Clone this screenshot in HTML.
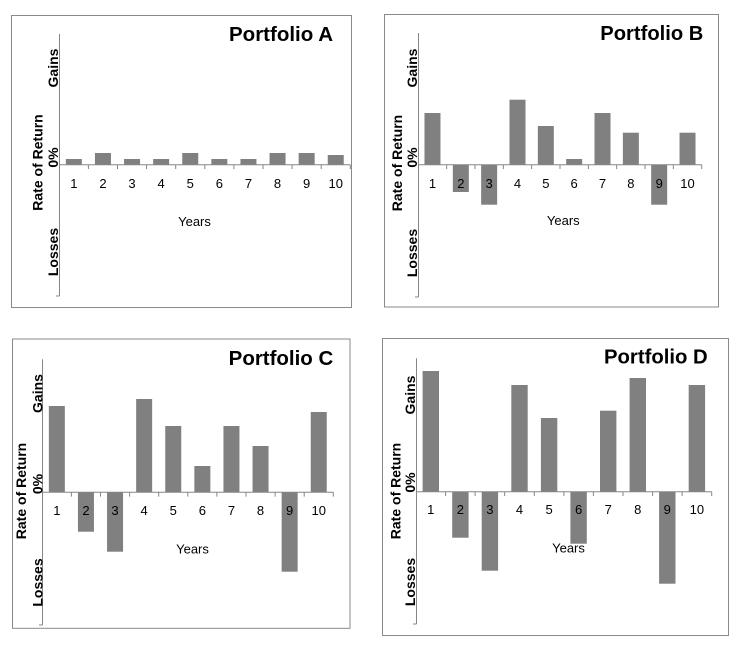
<!DOCTYPE html>
<html><head><meta charset="utf-8"><style>
html,body{margin:0;padding:0;background:#fff;}
svg{display:block;}
.fr{fill:none;stroke:#8a8a8a;stroke-width:1;}
.ax{stroke:#868686;stroke-width:1;fill:none;}
.b{fill:#808080;}
.tl{font-family:"Liberation Sans",Arial,sans-serif;font-size:13px;fill:#000;text-anchor:middle;}
.yr{font-family:"Liberation Sans",Arial,sans-serif;font-size:13px;fill:#000;text-anchor:middle;}
.tt{font-family:"Liberation Sans",Arial,sans-serif;font-size:20px;font-weight:bold;fill:#000;text-anchor:end;}
.ya{font-family:"Liberation Sans",Arial,sans-serif;font-size:14px;font-weight:bold;fill:#000;text-anchor:middle;}
</style></head><body>
<svg width="741" height="647" viewBox="0 0 741 647" xmlns="http://www.w3.org/2000/svg">
<!-- Panel A -->
<rect class="fr" x="11.5" y="15.5" width="340" height="292"/>
<g class="b">
<rect x="65.85" y="159" width="16" height="5.7"/>
<rect x="94.95" y="153" width="16" height="11.7"/>
<rect x="124.05" y="159" width="16" height="5.7"/>
<rect x="153.15" y="159" width="16" height="5.7"/>
<rect x="182.25" y="153" width="16" height="11.7"/>
<rect x="211.35" y="159" width="16" height="5.7"/>
<rect x="240.45" y="159" width="16" height="5.7"/>
<rect x="269.55" y="153" width="16" height="11.7"/>
<rect x="298.65" y="153" width="16" height="11.7"/>
<rect x="327.75" y="155" width="16" height="9.7"/>
</g>
<path class="ax" d="M59.5 34V296M56 296H59.5M59 164.7H350.3M88.4 164.7V169M117.5 164.7V169M146.6 164.7V169M175.7 164.7V169M204.8 164.7V169M233.9 164.7V169M263 164.7V169M292.1 164.7V169M321.2 164.7V169M350.3 164.7V169"/>
<g class="tl">
<text x="73.85" y="188">1</text><text x="102.95" y="188">2</text><text x="132.05" y="188">3</text><text x="161.15" y="188">4</text><text x="190.25" y="188">5</text><text x="219.35" y="188">6</text><text x="248.45" y="188">7</text><text x="277.55" y="188">8</text><text x="306.65" y="188">9</text><text x="335.75" y="188">10</text>
</g>
<text class="yr" x="194.5" y="226">Years</text>
<text class="tt" x="333" y="41" textLength="104" lengthAdjust="spacingAndGlyphs">Portfolio A</text>
<text class="ya" transform="translate(58,68) rotate(-90)">Gains</text>
<text class="ya" transform="translate(58,157.5) rotate(-90)">0%</text>
<text class="ya" transform="translate(58,252) rotate(-90)">Losses</text>
<text class="ya" transform="translate(42.5,162.5) rotate(-90)">Rate of Return</text>

<!-- Panel B -->
<rect class="fr" x="384.5" y="14.5" width="334" height="292.5"/>
<g class="b">
<rect x="424.47" y="113" width="16" height="51.7"/>
<rect x="452.81" y="164.7" width="16" height="27.3"/>
<rect x="481.15" y="164.7" width="16" height="40"/>
<rect x="509.49" y="99.7" width="16" height="65"/>
<rect x="537.83" y="126" width="16" height="38.7"/>
<rect x="566.17" y="159" width="16" height="5.7"/>
<rect x="594.51" y="113" width="16" height="51.7"/>
<rect x="622.85" y="132.7" width="16" height="32"/>
<rect x="651.19" y="164.7" width="16" height="40"/>
<rect x="679.53" y="132.7" width="16" height="32"/>
</g>
<path class="ax" d="M418.5 33V297M415 297H418.5M418 164.7H701.7M446.64 164.7V169M474.98 164.7V169M503.32 164.7V169M531.66 164.7V169M560 164.7V169M588.34 164.7V169M616.68 164.7V169M645.02 164.7V169M673.36 164.7V169M701.7 164.7V169"/>
<g class="tl">
<text x="432.47" y="188">1</text><text x="460.81" y="188">2</text><text x="489.15" y="188">3</text><text x="517.49" y="188">4</text><text x="545.83" y="188">5</text><text x="574.17" y="188">6</text><text x="602.51" y="188">7</text><text x="630.85" y="188">8</text><text x="659.19" y="188">9</text><text x="687.53" y="188">10</text>
</g>
<text class="yr" x="563.3" y="225">Years</text>
<text class="tt" x="703.3" y="40" textLength="103" lengthAdjust="spacingAndGlyphs">Portfolio B</text>
<text class="ya" transform="translate(417,68) rotate(-90)">Gains</text>
<text class="ya" transform="translate(417,157.5) rotate(-90)">0%</text>
<text class="ya" transform="translate(417,253) rotate(-90)">Losses</text>
<text class="ya" transform="translate(402,163) rotate(-90)">Rate of Return</text>

<!-- Panel C -->
<rect class="fr" x="12.5" y="339" width="337.5" height="289.3"/>
<g class="b">
<rect x="48.85" y="406" width="16" height="86.3"/>
<rect x="77.95" y="492.3" width="16" height="39.4"/>
<rect x="107.05" y="492.3" width="16" height="59.4"/>
<rect x="136.15" y="399" width="16" height="93.3"/>
<rect x="165.25" y="426" width="16" height="66.3"/>
<rect x="194.35" y="466" width="16" height="26.3"/>
<rect x="223.45" y="426" width="16" height="66.3"/>
<rect x="252.55" y="446" width="16" height="46.3"/>
<rect x="281.65" y="492.3" width="16" height="79.4"/>
<rect x="310.75" y="412" width="16" height="80.3"/>
</g>
<path class="ax" d="M42.5 359.3V625M39 625H42.5M42 492.3H333.3M71.4 492.3V496.6M100.5 492.3V496.6M129.6 492.3V496.6M158.7 492.3V496.6M187.8 492.3V496.6M216.9 492.3V496.6M246 492.3V496.6M275.1 492.3V496.6M304.2 492.3V496.6M333.3 492.3V496.6"/>
<g class="tl">
<text x="56.85" y="515">1</text><text x="85.95" y="515">2</text><text x="115.05" y="515">3</text><text x="144.15" y="515">4</text><text x="173.25" y="515">5</text><text x="202.35" y="515">6</text><text x="231.45" y="515">7</text><text x="260.55" y="515">8</text><text x="289.65" y="515">9</text><text x="318.75" y="515">10</text>
</g>
<text class="yr" x="192.5" y="553.5">Years</text>
<text class="tt" x="333.3" y="365" textLength="104.6" lengthAdjust="spacingAndGlyphs">Portfolio C</text>
<text class="ya" transform="translate(42.5,393.5) rotate(-90)">Gains</text>
<text class="ya" transform="translate(42.5,484) rotate(-90)">0%</text>
<text class="ya" transform="translate(42.5,582.5) rotate(-90)">Losses</text>
<text class="ya" transform="translate(26,491) rotate(-90)">Rate of Return</text>

<!-- Panel D -->
<rect class="fr" x="382.5" y="338.5" width="346" height="297"/>
<g class="b">
<rect x="422.6" y="371" width="16.4" height="120.7"/>
<rect x="452.2" y="491.7" width="16.4" height="46"/>
<rect x="481.7" y="491.7" width="16.4" height="79"/>
<rect x="511.3" y="385" width="16.4" height="106.7"/>
<rect x="540.9" y="418" width="16.4" height="73.7"/>
<rect x="570.4" y="491.7" width="16.4" height="52"/>
<rect x="600" y="410.7" width="16.4" height="81"/>
<rect x="629.6" y="378" width="16.4" height="113.7"/>
<rect x="659.1" y="491.7" width="16.4" height="92"/>
<rect x="688.7" y="385" width="16.4" height="106.7"/>
</g>
<path class="ax" d="M416.5 358.3V624M413 624H416.5M416 491.7H711.7M445.6 491.7V496M475.1 491.7V496M504.7 491.7V496M534.3 491.7V496M563.9 491.7V496M593.4 491.7V496M623 491.7V496M652.6 491.7V496M682.1 491.7V496M711.7 491.7V496"/>
<g class="tl">
<text x="430.8" y="514">1</text><text x="460.4" y="514">2</text><text x="489.9" y="514">3</text><text x="519.5" y="514">4</text><text x="549.1" y="514">5</text><text x="578.6" y="514">6</text><text x="608.2" y="514">7</text><text x="637.8" y="514">8</text><text x="667.3" y="514">9</text><text x="696.9" y="514">10</text>
</g>
<text class="yr" x="568.5" y="552.5">Years</text>
<text class="tt" x="707.7" y="363.3" textLength="103.7" lengthAdjust="spacingAndGlyphs">Portfolio D</text>
<text class="ya" transform="translate(415,395) rotate(-90)">Gains</text>
<text class="ya" transform="translate(415,482.5) rotate(-90)">0%</text>
<text class="ya" transform="translate(415,582) rotate(-90)">Losses</text>
<text class="ya" transform="translate(400.5,491) rotate(-90)">Rate of Return</text>
</svg>
</body></html>
